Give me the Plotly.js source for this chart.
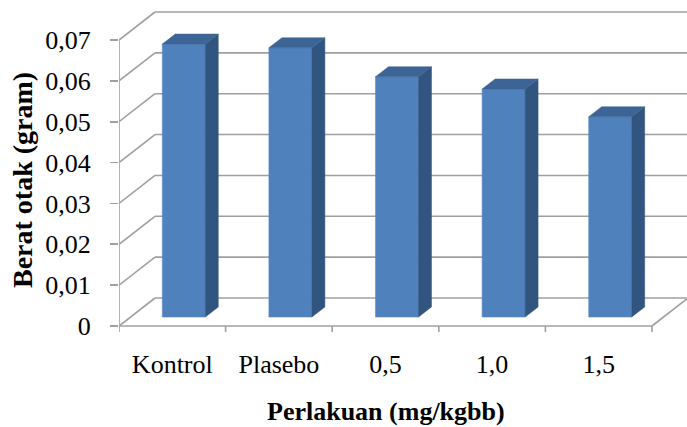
<!DOCTYPE html>
<html>
<head>
<meta charset="utf-8">
<script src="https://cdn.plot.ly/plotly-3.0.1.min.js"></script>
<style>html,body{margin:0;padding:0;background:#fff;}#chart{width:687px;height:427px;}</style>
</head>
<body>
<div id="chart"></div>
<script>
// ---- data ----
const categories = ["Kontrol", "Plasebo", "0,5", "1,0", "1,5"];
const beratOtak = [0.0668, 0.0659, 0.0588, 0.0558, 0.0490];
const yTickValues = [0, 0.01, 0.02, 0.03, 0.04, 0.05, 0.06, 0.07];
const yTickLabels = ["0", "0,01", "0,02", "0,03", "0,04", "0,05", "0,06", "0,07"];
const xTitle = "Perlakuan (mg/kgbb)";
const yTitle = "Berat otak (gram)";

// ---- layout geometry (pixels -> data units) ----
const W = 687, H = 427;
const L = 119, T = 0, B = 87;         // margins
const X0PX = 119, CATPX = 106.6;      // front axis origin & px per category
const Y0PX = 326, VALPX = 4085.7;     // front zero line & px per value unit
const plotBottomPx = H - B;
const plotH = plotBottomPx - T;
const xRange = [0, (W - L) / CATPX];
const yRange = [-(plotBottomPx - Y0PX) / VALPX, (Y0PX - T) / VALPX];

const DX = 36 / CATPX;   // full depth offset, x units
const DY = 28 / VALPX;   // full depth offset, value units
const f1 = 0.32, f2 = 0.68;  // bar front/back depth fractions
const ox1 = f1 * DX, oy1 = f1 * DY, ox2 = f2 * DX, oy2 = f2 * DY;
const barW = 43 / CATPX, hw = barW / 2;
const nCat = categories.length;
const yMax = yTickValues[yTickValues.length - 1];

const gridColor = "#a0a0a0";
const shapes = [];
function line(x0, y0, x1, y1) {
  shapes.push({type: "line", xref: "x", yref: "y", x0, y0, x1, y1, layer: "below",
               line: {color: gridColor, width: 1.6}});
}
// back wall gridlines + left wall diagonals
yTickValues.forEach(t => {
  line(DX, t + DY, nCat + DX, t + DY);
  line(0, t, DX, t + DY);
});
// front floor edge, right floor diagonal, vertical axis line
line(0, 0, nCat, 0);
line(nCat, 0, nCat + DX, DY);
line(0, 0, 0, yMax);
// category boundary ticks
for (let k = 0; k <= nCat; k++) line(k, 0, k, -6 / VALPX);

const traces = [];
// front faces (bar trace)
traces.push({
  type: "bar",
  x: categories.map((c, i) => i + 0.5 + ox1),
  y: beratOtak,
  base: beratOtak.map(() => oy1),
  width: barW,
  marker: {color: "#4f81bd", line: {color: "#5b8ac4", width: 0.6}},
  hoverinfo: "skip",
  showlegend: false
});
// side + top faces
beratOtak.forEach((v, i) => {
  const cx = i + 0.5;
  const xr1 = cx + hw + ox1, xr2 = cx + hw + ox2;
  const xl1 = cx - hw + ox1, xl2 = cx - hw + ox2;
  traces.push({
    type: "scatter", mode: "lines", fill: "toself", fillcolor: "#32557f",
    x: [xr1, xr2, xr2, xr1, xr1],
    y: [oy1, oy2, v + oy2, v + oy1, oy1],
    line: {color: "#32557f", width: 0.5}, hoverinfo: "skip", showlegend: false
  });
  traces.push({
    type: "scatter", mode: "lines", fill: "toself", fillcolor: "#3c6595",
    x: [xl1, xr1, xr2, xl2, xl1],
    y: [v + oy1, v + oy1, v + oy2, v + oy2, v + oy1],
    line: {color: "#3c6595", width: 0.5}, hoverinfo: "skip", showlegend: false
  });
});

const serif = "'Liberation Serif', 'Times New Roman', serif";
const layout = {
  width: W, height: H,
  margin: {l: L, r: 0, t: T, b: B, pad: 0},
  paper_bgcolor: "#ffffff", plot_bgcolor: "#ffffff",
  showlegend: false,
  font: {family: serif, size: 25, color: "#000"},
  xaxis: {
    range: xRange, showgrid: false, zeroline: false, showline: false,
    tickmode: "array", tickvals: categories.map((c, i) => i + 0.5), ticktext: categories,
    ticks: "", ticklabelstandoff: 6, tickfont: {family: serif, size: 26, color: "#000"},
    fixedrange: true
  },
  yaxis: {
    range: yRange, showgrid: false, zeroline: false, showline: false,
    tickmode: "array", tickvals: yTickValues, ticktext: yTickLabels,
    ticks: "outside", ticklen: 8, tickwidth: 1.6, tickcolor: gridColor,
    ticklabelstandoff: 14, tickfont: {family: serif, size: 26, color: "#000"},
    fixedrange: true
  },
  shapes: shapes,
  annotations: [
    {text: "<b>" + xTitle + "</b>", xref: "x", yref: "paper", x: nCat / 2,
     y: -(412 - plotBottomPx) / plotH,
     showarrow: false, xanchor: "center", yanchor: "middle",
     font: {family: serif, size: 26, color: "#000"}},
    {text: "<b>" + yTitle + "</b>", xref: "paper", yref: "y", x: (22 - L) / (W - L), y: (Y0PX - 180) / VALPX,
     showarrow: false, textangle: -90, xanchor: "center", yanchor: "middle",
     font: {family: serif, size: 28, color: "#000"}}
  ]
};

Plotly.newPlot("chart", traces, layout, {staticPlot: true, displayModeBar: false});
</script>
</body>
</html>
